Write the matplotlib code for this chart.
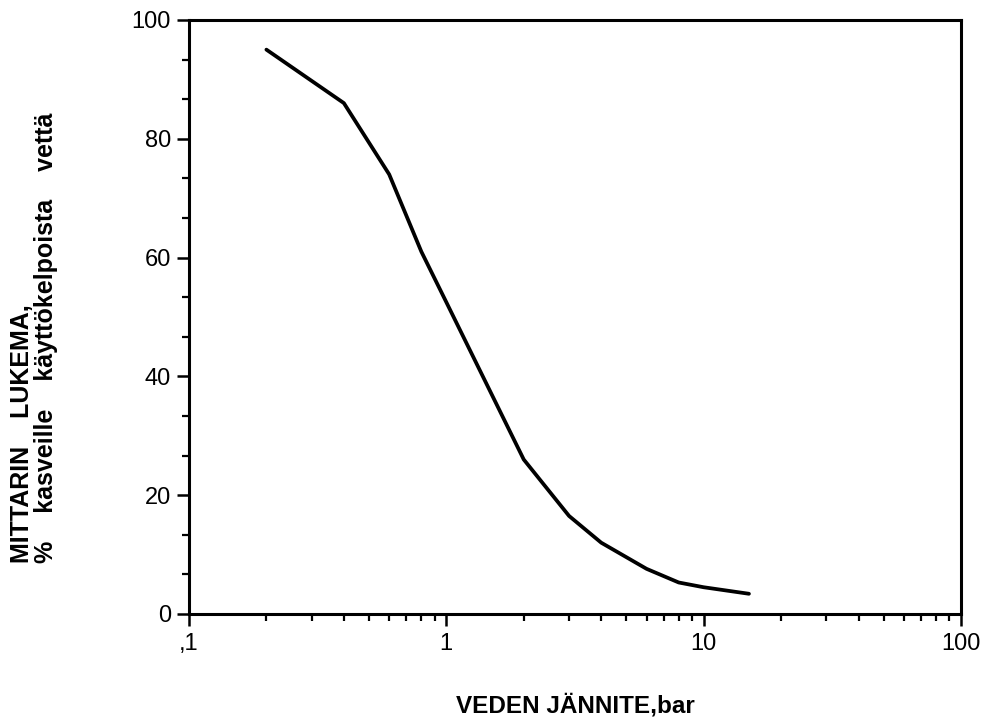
import numpy as np
import matplotlib
matplotlib.use("Agg")
from matplotlib import pyplot as plt
from matplotlib.ticker import FixedLocator, NullFormatter

jannite = [0.2, 0.4, 0.6, 0.8, 1.0, 2.0, 3.0, 4.0, 6.0, 8.0, 10.0, 15.0]
lukema = [95, 86, 74, 61, 52.5, 26, 16.5, 12, 7.6, 5.3, 4.5, 3.4]

x_ticks = [0.1, 1, 10, 100]
x_ticklabels = [",1", "1", "10", "100"]
y_ticks = [0, 20, 40, 60, 80, 100]

plt.rcParams['font.family'] = ['Liberation Sans', 'DejaVu Sans']

fig = plt.figure(figsize=(9.84, 7.17), dpi=100)
ax = fig.add_axes([0.192, 0.1437, 0.7846, 0.8285])

ax.plot(jannite, lukema, color='black', linewidth=2.7, solid_capstyle='round', solid_joinstyle='round')

ax.set_xscale('log')
ax.set_xlim(0.1, 100)
ax.set_ylim(0, 100)

ax.xaxis.set_major_locator(FixedLocator(x_ticks))
ax.set_xticklabels(x_ticklabels)
minors = [m * d for d in [0.1, 1, 10] for m in range(2, 10)]
ax.xaxis.set_minor_locator(FixedLocator(minors))
ax.xaxis.set_minor_formatter(NullFormatter())

ax.set_yticks(y_ticks)
ax.yaxis.set_minor_locator(FixedLocator(np.arange(0, 100.1, 20 / 3)))

ax.tick_params(axis='both', which='major', direction='out', length=8.5, width=1.8,
               labelsize=17, pad=5, top=False, right=False)
ax.tick_params(axis='both', which='minor', direction='out', length=5, width=1.6,
               top=False, right=False)
ax.tick_params(axis='y', which='major', pad=4.5)

for s in ax.spines.values():
    s.set_linewidth(2.2)

ax.set_xlabel("VEDEN JÄNNITE,bar", fontsize=17.5, fontweight='bold', labelpad=28)
fig.text(34 / 984, 1 - 338 / 717,
         "MITTARIN    LUKEMA,\n%    kasveille    käyttökelpoista    vettä",
         rotation=90, fontsize=18, fontweight='bold', ha='center', va='center',
         multialignment='left', linespacing=1.05)

fig.savefig("out.png", dpi=100)
